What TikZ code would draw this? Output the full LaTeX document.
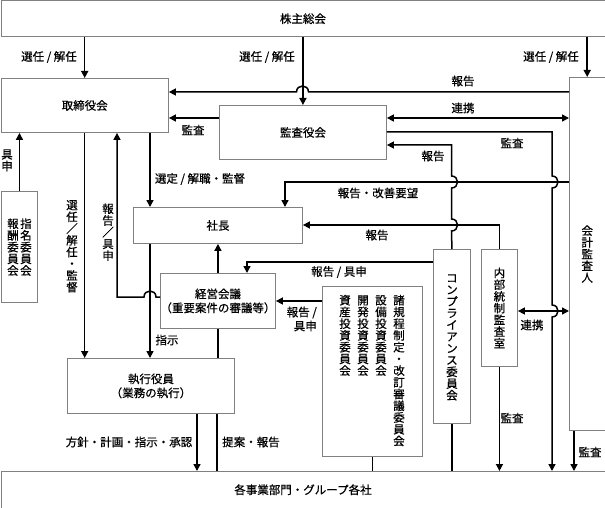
\documentclass[tikz,border=0pt]{standalone}
\usepackage{fontspec}
\setmainfont{Noto Sans CJK JP}[FakeBold=0.6]
\usetikzlibrary{arrows.meta}
% vertical (tate) text: one character per row
\ExplSyntaxOn
\cs_new_protected:Npn \tate_char:n #1
  { \hbox_to_wd:nn { 1em } { \hss \vrule height .9em depth .12em width 0pt #1 \hss } }
\NewDocumentCommand \tate { m }
  { \vtop { \offinterlineskip \tl_map_function:nN {#1} \tate_char:n } }
\ExplSyntaxOff
\begin{document}
\begin{tikzpicture}[x=1pt,y=-1pt,
    font=\fontsize{11.5}{14}\selectfont,
    box/.style={draw=gray,line width=0.9pt,fill=white,inner sep=0pt,anchor=north west},
    con/.style={line width=1.5pt},
    arr/.style={con,-{Triangle[length=7pt,width=7pt]}},
    darr/.style={con,{Triangle[length=7pt,width=7pt]}-{Triangle[length=7pt,width=7pt]}},
    lbl/.style={inner sep=0pt}]
\useasboundingbox (0,0) rectangle (605,508);

% boxes
\node[box,minimum width=604pt,minimum height=35.5pt] (kabunushi) at (0.5,0.5) {株主総会};
\node[box,minimum width=167.5pt,minimum height=54pt] (tori) at (0.5,78) {取締役会};
\node[box,minimum width=167pt,minimum height=54pt] (kansa) at (219,105) {監査役会};
\node[box,minimum width=35.5pt,minimum height=353pt] (kaikei) at (569,77) {\tate{会計監査人}};
\node[box,minimum width=36pt,minimum height=111pt] (shimei) at (1,191) {\tate{報酬委員会}\hspace{1.5pt}\tate{指名委員会}};
\node[box,minimum width=169pt,minimum height=36pt] (shacho) at (133,207) {社長};
\node[box,minimum width=114pt,minimum height=55pt,align=center] (keiei) at (160,273) {経営会議\\（重要案件の審議等）};
\node[box,minimum width=100pt,minimum height=170pt] (iinkai) at (322,286) {};
\node[lbl,anchor=north] (iinkaitxt) at (372,294) {\tate{資産投資委員会}\hspace{6.5pt}\tate{開発投資委員会}\hspace{6.5pt}\tate{設備投資委員会}\hspace{6.5pt}\tate{諸規程制定・改訂審議委員会}};
\node[box,minimum width=37pt,minimum height=174pt] (compl) at (433,249) {\tate{コンプライアンス委員会}};
\node[box,minimum width=36pt,minimum height=117pt] (naibu) at (481,249) {\tate{内部統制監査室}};
\node[box,minimum width=167pt,minimum height=55pt,align=center] (shikko) at (67,358) {執行役員\\（業務の執行）};
\node[box,minimum width=604pt,minimum height=36.5pt] (jigyo) at (0.5,471) {各事業部門・グループ各社};

% 株主総会から
\draw[arr] (kabunushi.south -| tori.north) -- (tori.north);
\draw[arr] (kabunushi.south -| kansa.north) -- (kansa.north);
\draw[arr] (kabunushi.south -| kaikei.north) -- (kaikei.north);
\node[lbl] (sen1) at (49,57) {選任 / 解任};
\node[lbl] (sen2) at (267,57) {選任 / 解任};
\node[lbl] (sen3) at (551,57) {選任 / 解任};

% 会計監査人・監査役会・取締役会
\draw[arr] (kaikei.west |- 0,92) -- (308.5,92) .. controls (308.5,84) and (296.5,84) .. (296.5,92) -- (tori.east |- 0,92);
\node[lbl] (hok1) at (463,81) {報告};
\draw[darr] (kansa.east |- 0,118) -- (kaikei.west |- 0,118);
\node[lbl] (ren1) at (463,108) {連携};
\draw[arr] (kansa.west |- 0,118) -- (tori.east |- 0,118);
\node[lbl] (kan1) at (193,130) {監査};
\draw[arr] (kansa.east |- 0,132) -- (552,132) -- (552,176) .. controls (560,176) and (560,188) .. (552,188)
  -- (552,305) .. controls (560,305) and (560,317) .. (552,317) -- (jigyo.north -| 552,0);
\node[lbl] (kan2) at (512,143) {監査};
\draw[arr] (compl.north) -- (451.5,231) .. controls (459.5,231) and (459.5,219) .. (451.5,219)
  -- (451.5,188) .. controls (459.5,188) and (459.5,176) .. (451.5,176) -- (451.5,145) -- (kansa.east |- 0,145);
\node[lbl] (hok2) at (433,156) {報告};
\draw[arr] (kaikei.west |- 0,182) -- (285,182) -- (shacho.north -| 285,0);
\node[lbl] (kaizen) at (378,193) {報告・改善要望};

% 取締役会・社長・執行役員
\draw[arr] (tori.south -| 150,0) -- (shacho.north -| 150,0);
\node[lbl] (sentei) at (200,179) {選定 / 解職・監督};
\draw[arr] (shacho.south -| 150,0) -- (shikko.north -| 150,0);
\node[lbl] (shiji) at (167,340) {指示};
\draw[arr] (tori.south -| tori.north) -- (shikko.north -| tori.north);
\node[lbl] (sen4) at (72,246) {\tate{選任／解任・監督}};
\draw[arr] (keiei.west |- 0,297) -- (156,297) .. controls (156,289) and (144,289) .. (144,297) -- (117,297) -- (tori.south -| 117,0);
\node[lbl] (hok3) at (108,232) {\tate{報告／具申}};
\draw[arr] (shimei.north) -- (tori.south -| shimei.north);
\node[lbl] (gu1) at (7,160) {\tate{具申}};
\draw[arr] (keiei.north) -- (keiei.north |- shacho.south);
\draw[con] (keiei.south) -- (keiei.south |- shikko.north);

% 委員会・内部統制監査室
\draw[arr] (compl.west |- 0,262) -- (247,262) -- (keiei.north -| 247,0);
\node[lbl] (hok4) at (339,272) {報告 / 具申};
\draw[arr] (iinkai.west |- 0,301) -- (keiei.east |- 0,301);
\node[lbl,align=right,anchor=east] (hok5) at (317,319) {報告 /\\具申};
\draw[arr] (naibu.north) -- (naibu.north |- 0,225) -- (shacho.east |- 0,225);
\node[lbl] (hok6) at (377,235) {報告};
\draw[darr] (naibu.east |- 0,311) -- (kaikei.west |- 0,311);
\node[lbl] (ren2) at (532,325) {連携};

% 各事業部門・グループ各社へ
\draw[arr] (naibu.south) -- (jigyo.north -| naibu.south);
\node[lbl] (kan3) at (512,418) {監査};
\draw[arr] (kaikei.south -| 574,0) -- (jigyo.north -| 574,0);
\node[lbl] (kan4) at (590,452) {監査};
\draw[con] (compl.south) -- (jigyo.north -| compl.south);
\draw[con] (iinkai.south) -- (jigyo.north -| iinkai.south);
\draw[arr] (shikko.south -| 197,0) -- (jigyo.north -| 197,0);
\node[lbl] (hoshin) at (129,442) {方針・計画・指示・承認};
\draw[con] (jigyo.north -| 217,0) -- (shikko.south -| 217,0);
\node[lbl] (teian) at (251,442) {提案・報告};
\end{tikzpicture}
\end{document}
